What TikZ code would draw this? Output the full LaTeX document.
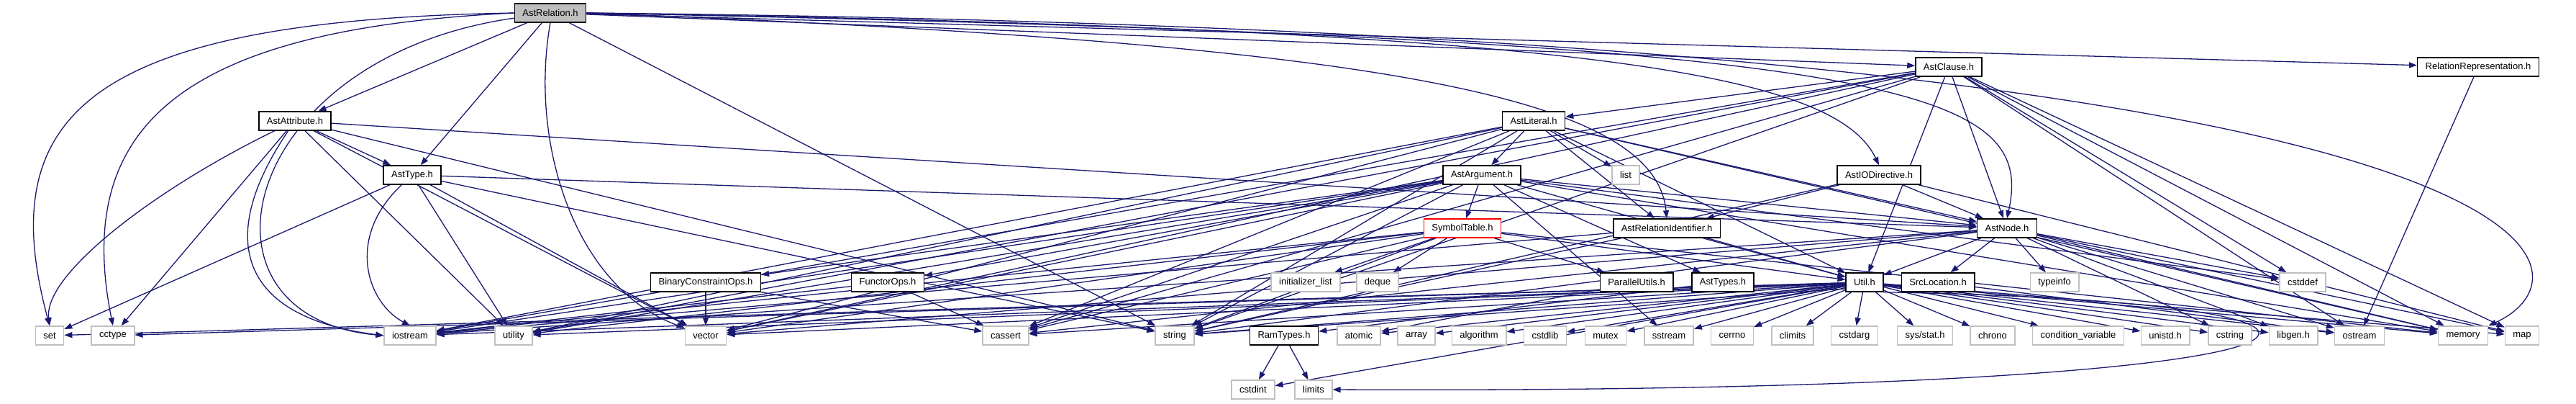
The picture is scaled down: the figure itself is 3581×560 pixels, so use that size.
\documentclass[tikz,border=0pt]{standalone}
\usepackage{fontspec}
\setmainfont{Liberation Sans}
\usepackage{xcolor}
\usepackage{tikz}
\usetikzlibrary{arrows.meta}
\definecolor{EdgeBlue}{HTML}{191970}
\definecolor{SysGray}{HTML}{BFBFBF}
\definecolor{RootGray}{HTML}{BFBFBF}
\pgfdeclarelayer{edges}
\pgfsetlayers{edges,main}

\begin{document}
\begin{tikzpicture}[
  x=1pt, y=1pt,
  dep/.style={-{Triangle[length=11pt, width=8pt]}, line width=1.3pt, color=EdgeBlue},
  file/.style={font=\fontsize{13}{15}\selectfont, inner xsep=11pt, inner ysep=0pt,
               minimum height=26pt, line width=1.5pt},
  hdr/.style={file, draw=black, fill=white},
  sys/.style={file, draw=SysGray, fill=white},
  root/.style={file, draw=black, fill=RootGray},
  hot/.style={file, draw=red, fill=white},
]
  \useasboundingbox (0,0) rectangle (3581,-560);

  % project headers, top to bottom
  \node[root] (rel)     at (765,-18)   {AstRelation.h};
  \node[hdr]  (clause)  at (2709,-93)  {AstClause.h};
  \node[hdr]  (relrep)  at (3445,-93)  {RelationRepresentation.h};
  \node[hdr]  (attr)    at (410,-168)  {AstAttribute.h};
  \node[hdr]  (lit)     at (2132,-168) {AstLiteral.h};
  \node[hdr]  (type)    at (573,-243)  {AstType.h};
  \node[hdr]  (arg)     at (2060,-243) {AstArgument.h};
  \node[sys]  (list)    at (2260,-243) {list};
  \node[hdr]  (iodir)   at (2612,-243) {AstIODirective.h};
  \node[hot]  (symtab)  at (2033,-317) {SymbolTable.h};
  \node[hdr]  (relid)   at (2317,-317) {AstRelationIdentifier.h};
  \node[hdr]  (astnode) at (2790,-317) {AstNode.h};
  \node[hdr]  (binops)  at (981,-392)  {BinaryConstraintOps.h};
  \node[hdr]  (funops)  at (1234,-392) {FunctorOps.h};
  \node[sys]  (initlist) at (1815,-392) {initializer\_list};
  \node[sys]  (deque)   at (1915,-392) {deque};
  \node[hdr]  (parutil) at (2275,-392) {ParallelUtils.h};
  \node[hdr]  (types)   at (2395,-392) {AstTypes.h};
  \node[hdr]  (util)    at (2592,-392) {Util.h};
  \node[hdr]  (srcloc)  at (2694,-392) {SrcLocation.h};
  \node[sys]  (typeinfo) at (2856,-392) {typeinfo};
  \node[sys]  (cstddef) at (3201,-392) {cstddef};

  % bottom row
  \node[sys] (set)       at (69,-466)   {set};
  \node[sys] (cctype)    at (157,-466)  {cctype};
  \node[sys] (iostream)  at (570,-466)  {iostream};
  \node[sys] (utility)   at (714,-466)  {utility};
  \node[sys] (vector)    at (981,-466)  {vector};
  \node[sys] (cassert)   at (1398,-466) {cassert};
  \node[sys] (string)    at (1633,-466) {string};
  \node[hdr] (ramtypes)  at (1785,-466) {RamTypes.h};
  \node[sys] (atomic)    at (1889,-466) {atomic};
  \node[sys] (array)     at (1969,-466) {array};
  \node[sys] (algorithm) at (2056,-466) {algorithm};
  \node[sys] (cstdlib)   at (2148,-466) {cstdlib};
  \node[sys] (mutex)     at (2232,-466) {mutex};
  \node[sys] (sstream)   at (2320,-466) {sstream};
  \node[sys] (cerrno)    at (2408,-466) {cerrno};
  \node[sys] (climits)   at (2492,-466) {climits};
  \node[sys] (cstdarg)   at (2578,-466) {cstdarg};
  \node[sys] (sysstat)   at (2676,-466) {sys/stat.h};
  \node[sys] (chrono)    at (2770,-466) {chrono};
  \node[sys] (condvar)   at (2889,-466) {condition\_variable};
  \node[sys] (unistd)    at (3010,-466) {unistd.h};
  \node[sys] (cstring)   at (3100,-466) {cstring};
  \node[sys] (libgen)    at (3188,-466) {libgen.h};
  \node[sys] (ostream)   at (3280,-466) {ostream};
  \node[sys] (memory)    at (3424,-466) {memory};
  \node[sys] (map)       at (3506,-466) {map};
  \node[sys] (cstdint)   at (1742,-541) {cstdint};
  \node[sys] (limits)    at (1826,-541) {limits};

  \begin{pgfonlayer}{edges}
  %% AstRelation.h
  \foreach \t in {attr,type,string,clause,relrep}
    \draw[dep] (rel) -- (\t);
  \draw[dep] (rel.west) .. controls (120,-28) and (-10,-160) .. (set.north);
  \draw[dep] (rel.west) .. controls (260,-40) and (100,-170) .. (cctype.north);
  \draw[dep] (rel) .. controls (330,-80) and (250,-440) .. (iostream.west);
  \draw[dep] (rel.south) .. controls (735,-200) and (800,-400) .. (vector);
  \draw[dep] (rel.east) .. controls (1900,-60) and (2300,-130) .. (relid.north);
  \draw[dep] (rel.east) .. controls (2200,-40) and (2550,-100) .. (iodir.north);
  \draw[dep] (rel.east) .. controls (2650,-55) and (2830,-120) .. (astnode.north);
  \draw[dep] (rel.east) .. controls (3620,-45) and (3620,-380) .. (memory.north east);

  %% AstAttribute.h and AstType.h
  \foreach \t in {astnode,type,cctype,utility,vector,string}
    \draw[dep] (attr) -- (\t);
  \draw[dep] (attr) .. controls (220,-260) and (60,-380) .. (set.north);
  \draw[dep] (attr) .. controls (300,-330) and (330,-440) .. (iostream.west);
  \foreach \t in {astnode,set,utility,vector,string}
    \draw[dep] (type) -- (\t);
  \draw[dep] (type) .. controls (480,-330) and (510,-420) .. (iostream.north);

  %% AstClause.h
  \foreach \t in {lit,astnode,util,cstddef,ostream,memory,map,vector,string,cassert,iostream,utility}
    \draw[dep] (clause) -- (\t);

  %% AstLiteral.h and AstArgument.h
  \foreach \t in {arg,list,relid,util,astnode,memory,iostream,string,vector,cassert,utility}
    \draw[dep] (lit) -- (\t);
  \foreach \t in {symtab,types,astnode,util,cstddef,memory,sstream,binops,funops,iostream,utility,vector,cassert,string}
    \draw[dep] (arg) -- (\t);

  %% SymbolTable.h
  \foreach \t in {initlist,deque,parutil,util,iostream,utility,vector,cassert,string,memory}
    \draw[dep] (symtab) -- (\t);

  %% AstRelationIdentifier.h and AstIODirective.h
  \foreach \t in {util,iostream,string}
    \draw[dep] (relid) -- (\t);
  \foreach \t in {relid,astnode,map,string}
    \draw[dep] (iodir) -- (\t);

  %% AstNode.h
  \foreach \t in {srcloc,util,typeinfo,cstddef,memory,map,ostream,cstring,libgen,iostream,string,vector,cassert}
    \draw[dep] (astnode) -- (\t);

  %% Util.h
  \foreach \t in {climits,cstdarg,sysstat,chrono,condvar,unistd,cstring,libgen,ostream,memory,map,atomic,array,algorithm,cstdlib,mutex,sstream,cerrno,iostream,utility,vector,cassert,string,set,cctype,cstdint}
    \draw[dep] (util) -- (\t);
  \draw[dep] (util.south east) .. controls (3450,-420) and (3350,-548) .. (limits.east);

  %% the rest
  \foreach \t in {string,ostream}
    \draw[dep] (srcloc) -- (\t);
  \draw[dep] (parutil) -- (atomic);
  \draw[dep] (types) -- (ramtypes);
  \draw[dep] (ramtypes) -- (cstdint);
  \draw[dep] (ramtypes) -- (limits);
  \draw[dep] (relrep) -- (ostream);
  \draw[dep] (binops) -- (cassert);
  \draw[dep] (binops) -- (vector);
  \draw[dep] (funops) -- (cassert);
  \draw[dep] (funops) -- (iostream);
  \end{pgfonlayer}

\end{tikzpicture}
\end{document}
